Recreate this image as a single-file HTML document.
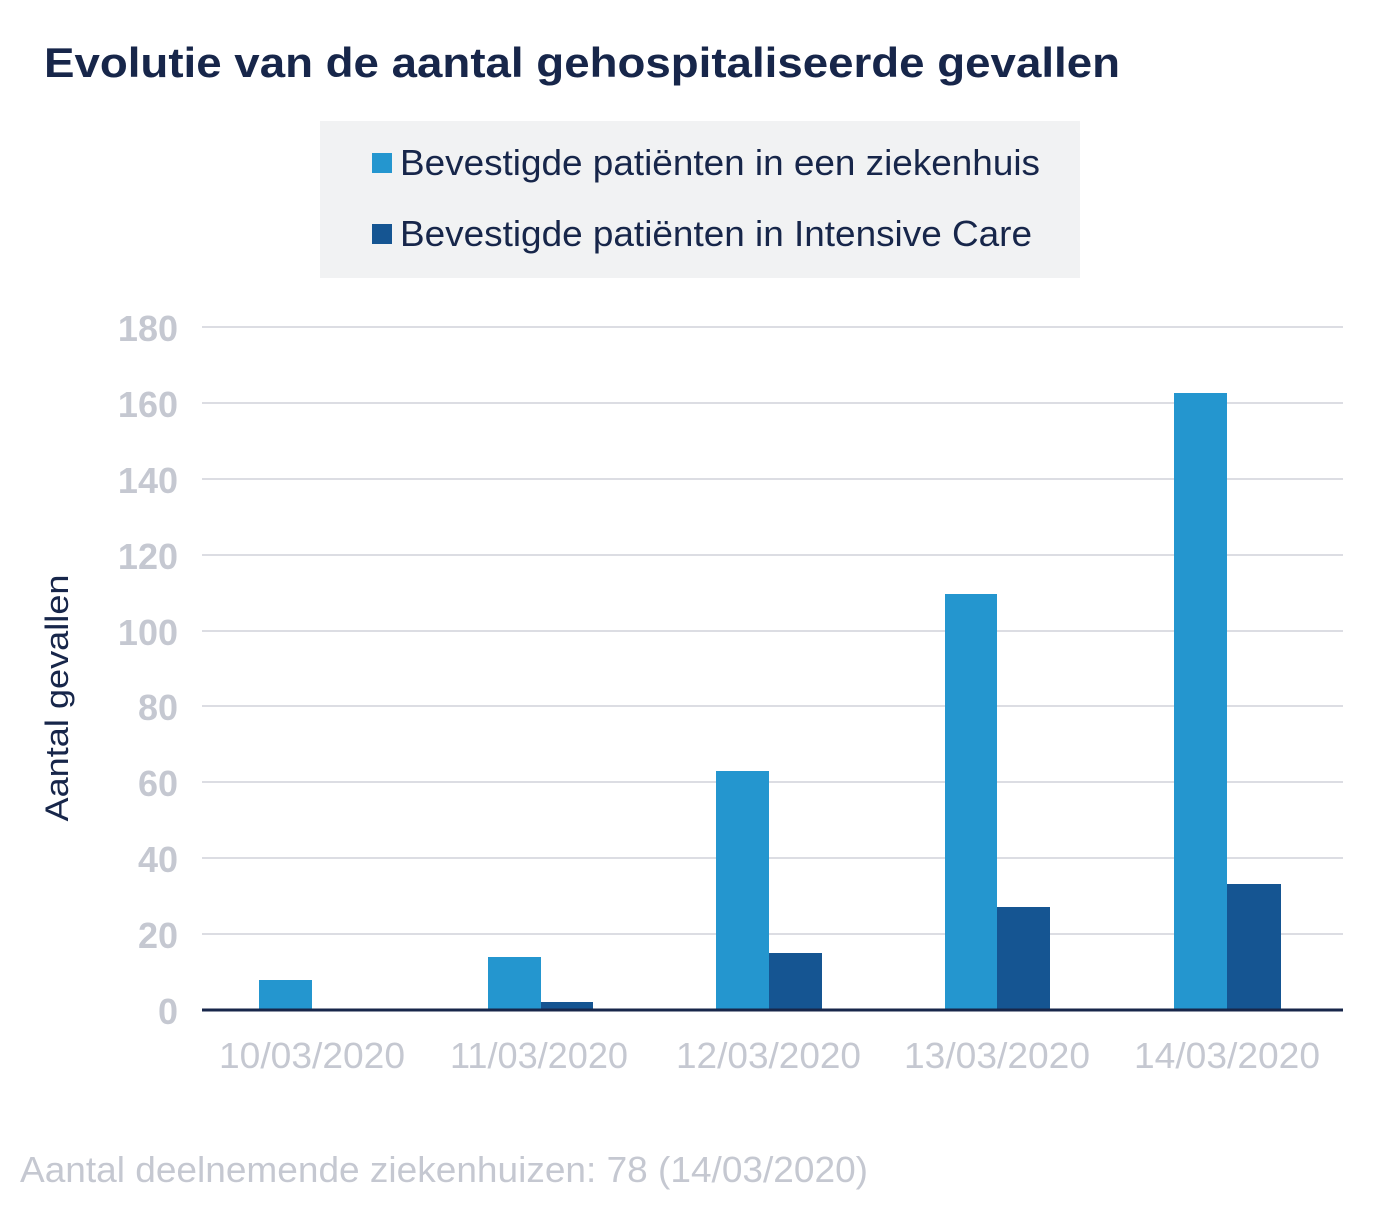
<!DOCTYPE html>
<html><head><meta charset="utf-8"><style>
html,body{margin:0;padding:0;background:#fff;}
svg{display:block;font-family:"Liberation Sans",sans-serif;}
</style></head><body>
<svg width="1400" height="1215" viewBox="0 0 1400 1215">
<rect width="1400" height="1215" fill="#fff"/>
<text x="44" y="77" font-size="42" font-weight="bold" fill="#17264a" textLength="1076" lengthAdjust="spacingAndGlyphs">Evolutie van de aantal gehospitaliseerde gevallen</text>
<rect x="320" y="121" width="760" height="157" fill="#f1f2f3"/>
<rect x="372" y="153" width="20" height="20" fill="#2496cf"/>
<text x="400" y="175" font-size="36" fill="#17264a" textLength="640" lengthAdjust="spacingAndGlyphs">Bevestigde patiënten in een ziekenhuis</text>
<rect x="372" y="224" width="20" height="20" fill="#155592"/>
<text x="400" y="246" font-size="36" fill="#17264a" textLength="632" lengthAdjust="spacingAndGlyphs">Bevestigde patiënten in Intensive Care</text>
<g stroke="#dcdde3" stroke-width="2">
<line x1="202" x2="1343" y1="327" y2="327"/>
<line x1="202" x2="1343" y1="403" y2="403"/>
<line x1="202" x2="1343" y1="479" y2="479"/>
<line x1="202" x2="1343" y1="555" y2="555"/>
<line x1="202" x2="1343" y1="631" y2="631"/>
<line x1="202" x2="1343" y1="706" y2="706"/>
<line x1="202" x2="1343" y1="782" y2="782"/>
<line x1="202" x2="1343" y1="858" y2="858"/>
<line x1="202" x2="1343" y1="934" y2="934"/>
</g>
<g font-size="36" font-weight="bold" fill="#c5c8d1" text-anchor="end">
<text x="178" y="341">180</text><text x="178" y="417">160</text><text x="178" y="493">140</text>
<text x="178" y="569">120</text><text x="178" y="645">100</text><text x="178" y="720">80</text>
<text x="178" y="796">60</text><text x="178" y="872">40</text><text x="178" y="948">20</text>
<text x="178" y="1024">0</text>
</g>
<g fill="#2496cf">
<rect x="259" y="980" width="53" height="30"/>
<rect x="488" y="957" width="53" height="53"/>
<rect x="716" y="771" width="53" height="239"/>
<rect x="945" y="594" width="52" height="416"/>
<rect x="1174" y="393" width="53" height="617"/>
</g>
<g fill="#155592">
<rect x="541" y="1002" width="52" height="8"/>
<rect x="769" y="953" width="53" height="57"/>
<rect x="997" y="907" width="53" height="103"/>
<rect x="1227" y="884" width="54" height="126"/>
</g>
<line x1="202" x2="1343" y1="1010" y2="1010" stroke="#17264a" stroke-width="3"/>
<g font-size="36" fill="#c5c8d1">
<text x="219" y="1068" textLength="186" lengthAdjust="spacingAndGlyphs">10/03/2020</text>
<text x="450" y="1068" textLength="178" lengthAdjust="spacingAndGlyphs">11/03/2020</text>
<text x="676" y="1068" textLength="185" lengthAdjust="spacingAndGlyphs">12/03/2020</text>
<text x="904" y="1068" textLength="186" lengthAdjust="spacingAndGlyphs">13/03/2020</text>
<text x="1134" y="1068" textLength="186" lengthAdjust="spacingAndGlyphs">14/03/2020</text>
</g>
<text transform="translate(68,698) rotate(-90)" font-size="32" fill="#17264a" text-anchor="middle" textLength="247" lengthAdjust="spacingAndGlyphs">Aantal gevallen</text>
<text x="20" y="1182" font-size="36" fill="#c5c8d1" textLength="848" lengthAdjust="spacingAndGlyphs">Aantal deelnemende ziekenhuizen: 78 (14/03/2020)</text>
</svg>
</body></html>
